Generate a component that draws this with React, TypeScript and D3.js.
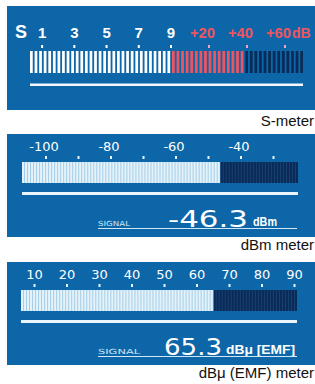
import React from 'react';
import * as d3 from 'd3';

// S-meter
const sUnits = [1, 3, 5, 7, 9];
const sLabels = ['1', '3', '5', '7', '9'];
const overDb = [20, 40, 60];
const overLabels = ['+20', '+40', '+60'];
const sReadingDb = 39; // dB over S9

// dBm meter
const dbmTicks = [-100, -90, -80, -70, -60, -50, -40, -30];
const dbmLabels = [-100, -80, -60, -40];
const dbmValue = -46.3;

// dBu (EMF) meter
const emfTicks = [10, 20, 30, 40, 50, 60, 70, 80, 90];
const emfValue = 65.3;

const BLUE = '#0c66a8';
const NAVY = '#0a2b57';
const RED = '#ee5562';
const W = 315;
const H = 384;
const SANS = 'Liberation Sans, Arial, sans-serif';

const SMeter = () => {
  // S units 0..9, then 9 + dB/10 above S9
  const x = d3.scaleLinear().domain([0, 9, 16]).range([26, 171, 304]);
  const seg = d3.scaleBand<number>().domain(d3.range(60)).range([30, 303]).paddingInner(0.4);
  const s9 = x(9);
  const reading = x(9 + sReadingDb / 10);
  return (
    <g>
      <rect x={7} y={6} width={308} height={104} fill={BLUE} />
      <text x={21} y={38} textAnchor="middle" fill="#fff" fontSize={18} fontWeight="bold"
        fontFamily={SANS}>S</text>
      {sUnits.map((u, i) => (
        <g key={u}>
          <text x={x(u)} y={38} textAnchor="middle" fill="#fff" fontSize={15} fontWeight="bold"
            fontFamily={SANS}>{sLabels[i]}</text>
          <rect x={x(u) - 1} y={45} width={2} height={3} fill="#fff" />
        </g>
      ))}
      {overDb.map((db, i) => (
        <g key={db}>
          <text x={x(9 + db / 10) + 6} y={38} textAnchor="end" fill={RED} fontSize={14} fontWeight="bold"
            fontFamily={SANS} textLength={25} lengthAdjust="spacingAndGlyphs">{overLabels[i]}</text>
          <rect x={x(9 + db / 10) - 1} y={45} width={2} height={3} fill="#f0a6bc" />
        </g>
      ))}
      <text x={x(9 + overDb[overDb.length - 1] / 10) + 7} y={38} fill={RED} fontSize={14} fontWeight="bold"
        fontFamily={SANS}>dB</text>
      {seg.domain().map(i => {
        const cx = (seg(i) as number) + seg.bandwidth() / 2;
        const fill = cx < s9 ? '#ffffff' : cx < reading ? RED : NAVY;
        return <rect key={i} x={seg(i)} y={51} width={seg.bandwidth()} height={22} fill={fill} />;
      })}
      <rect x={30} y={83.5} width={273} height={2.5} fill="#f2f8fc" />
      <text x={314} y={126} textAnchor="end" fill="#111" fontSize={15} fontFamily={SANS}>S-meter</text>
    </g>
  );
};

type LinearProps = {
  top: number;
  x: d3.ScaleLinear<number, number>;
  ticks: number[];
  labels: number[];
  value: number;
  trackX: [number, number];
  valueText: string;
  valueLen: number;
  valueX: number;
  unit: string;
  unitX: number;
  unitLen: number;
  signalLen: number;
  caption: string;
};

const LinearMeter = (p: LinearProps) => {
  const { top, x } = p;
  const seg = d3.scaleBand<number>().domain(d3.range(92)).range(p.trackX).paddingInner(0.28);
  const vx = x(p.value);
  const barY = top + 28;
  const lbl = 'DejaVu Sans, Verdana, sans-serif';
  return (
    <g>
      <rect x={7} y={top} width={308} height={103} fill={BLUE} />
      {p.labels.map(v => (
        <text key={v} x={x(v) - (v < 0 ? 2 : 0)} y={top + 17} textAnchor="middle" fill="#fff" fontSize={13}
          fontFamily={lbl}>{v}</text>
      ))}
      {p.ticks.map(v => (
        <rect key={v} x={x(v) - 1} y={top + 22} width={2} height={3} fill="#e6f3fb" />
      ))}
      <rect x={p.trackX[0]} y={barY} width={vx - p.trackX[0]} height={21} fill="#9ac6e2" />
      <rect x={vx} y={barY} width={p.trackX[1] - vx} height={21} fill="#1b4579" />
      {seg.domain().map(i => {
        const cx = (seg(i) as number) + seg.bandwidth() / 2;
        return <rect key={i} x={seg(i)} y={barY} width={seg.bandwidth()} height={21}
          fill={cx < vx ? '#e4f3fb' : NAVY} />;
      })}
      <rect x={p.trackX[0]} y={top + 58} width={p.trackX[1] - p.trackX[0]} height={3} fill="#e8f5fc" />
      <text x={98} y={top + 92} fill="#cfe6f5" fontSize={7} fontFamily={lbl}
        textLength={p.signalLen} lengthAdjust="spacingAndGlyphs">SIGNAL</text>
      <text x={p.valueX} y={top + 93} fill="#fff" fontSize={23} fontFamily={lbl}
        textLength={p.valueLen} lengthAdjust="spacingAndGlyphs">{p.valueText}</text>
      <text x={p.unitX} y={top + 92} fill="#fff" fontSize={12} fontWeight="bold" fontFamily={SANS}
        textLength={p.unitLen} lengthAdjust="spacingAndGlyphs">{p.unit}</text>
      <rect x={98} y={top + 94} width={199} height={1} fill="#cfe6f5" />
      <text x={314} y={top + 116} textAnchor="end" fill="#111" fontSize={15} fontFamily={SANS}>{p.caption}</text>
    </g>
  );
};

export default function App() {
  const dbmX = d3.scaleLinear().domain([-100, -30]).range([46, 273.5]);
  const emfX = d3.scaleLinear().domain([10, 90]).range([34.5, 294.5]);
  return (
    <svg width={W} height={H} style={{ position: 'absolute', left: 0, top: 0, background: '#fff' }}>
      <SMeter />
      <LinearMeter top={134} x={dbmX} ticks={dbmTicks} labels={dbmLabels} value={dbmValue}
        trackX={[22, 298]} valueText={String(dbmValue)} valueLen={80} valueX={168}
        unit="dBm" unitX={253} unitLen={24} signalLen={32} caption="dBm meter" />
      <LinearMeter top={262} x={emfX} ticks={emfTicks} labels={emfTicks} value={emfValue}
        trackX={[21, 297]} valueText={String(emfValue)} valueLen={58} valueX={164}
        unit="dBμ [EMF]" unitX={226} unitLen={69} signalLen={42} caption="dBμ (EMF) meter" />
    </svg>
  );
}
